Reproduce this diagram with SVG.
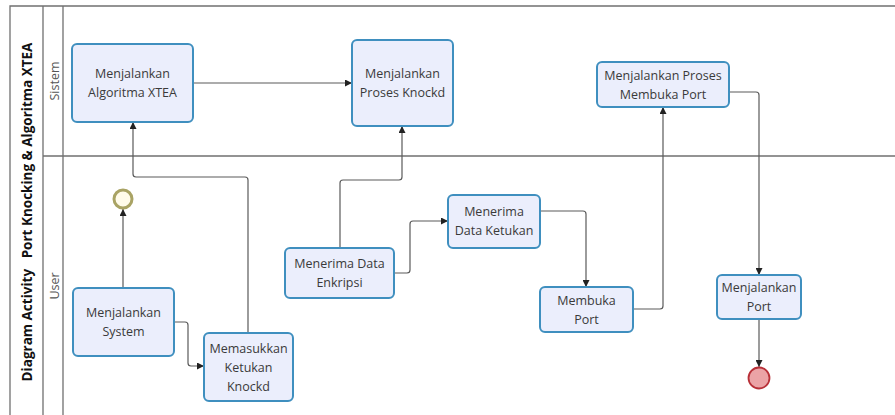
<svg xmlns="http://www.w3.org/2000/svg" width="895" height="415" viewBox="0 0 895 415">
  <defs>
    <marker id="arrow" viewBox="0 0 10 10" refX="10" refY="5" markerWidth="7" markerHeight="7" orient="auto-start-reverse" markerUnits="userSpaceOnUse">
      <path d="M0,0 L10,5 L0,10 z" fill="#222"/>
    </marker>
    <style>
      .frame { fill: none; stroke: #707070; stroke-width: 1.3; }
      .task rect { fill: #ebeefc; stroke: #3f8fbf; stroke-width: 2; }
      .task text { font-family: "Open Sans", "Noto Sans", sans-serif; font-size: 12.5px; fill: #3a3a3a; text-anchor: middle; }
      .lane { font-family: "Open Sans", "Noto Sans", sans-serif; font-size: 12.5px; fill: #555; text-anchor: middle; }
      .pool { font-family: "Open Sans", "Noto Sans", sans-serif; font-size: 13.5px; font-weight: bold; fill: #111; text-anchor: middle; }
      .flow { fill: none; stroke: #5a5a5a; stroke-width: 1.2; marker-end: url(#arrow); }
    </style>
  </defs>

  <!-- pool and lanes -->
  <g id="pool">
    <path class="frame" d="M895,6 H10 V415 M43,6 V415 M63,6 V415 M43,156 H895"/>
    <text class="pool" xml:space="preserve" transform="translate(27,212) rotate(-90)" dominant-baseline="central">Diagram Activity   Port Knocking &amp; Algoritma XTEA</text>
    <text class="lane" transform="translate(54,81) rotate(-90)" dominant-baseline="central">Sistem</text>
    <text class="lane" transform="translate(54,286) rotate(-90)" dominant-baseline="central">User</text>
  </g>

  <!-- connectors -->
  <g id="connectors">
    <path class="flow" d="M193,83 H352"/>
    <path class="flow" d="M248,333 V180 Q248,177 245,177 H136 Q133,177 133,174 V122"/>
    <path class="flow" d="M123,288 V209"/>
    <path class="flow" d="M174,322 H185 Q188,322 188,325 V363 Q188,366 191,366 H204"/>
    <path class="flow" d="M340,248 V183 Q340,180 343,180 H399 Q402,180 402,177 V126"/>
    <path class="flow" d="M394,273 H407 Q410,273 410,270 V224 Q410,221 413,221 H448"/>
    <path class="flow" d="M540,211 H583 Q586,211 586,214 V287"/>
    <path class="flow" d="M633,309 H660 Q663,309 663,306 V107"/>
    <path class="flow" d="M729,92 H756 Q759,92 759,95 V275"/>
    <path class="flow" d="M759,319 V367"/>
  </g>

  <!-- events -->
  <g id="start">
    <circle cx="123" cy="199" r="9" fill="#fffbea" stroke="#a9a364" stroke-width="3"/>
  </g>
  <g id="end">
    <circle cx="759" cy="378" r="10.5" fill="#eba3a6" stroke="#b83038" stroke-width="1.8"/>
  </g>

  <!-- tasks -->
  <g id="algoritma-xtea" class="task">
    <rect x="72" y="44" width="121" height="78" rx="5"/>
    <text x="132.5" y="78">Menjalankan</text>
    <text x="132.5" y="97">Algoritma XTEA</text>
  </g>
  <g id="proses-knockd" class="task">
    <rect x="352" y="40" width="101" height="86" rx="5"/>
    <text x="402.5" y="78">Menjalankan</text>
    <text x="402.5" y="97">Proses Knockd</text>
  </g>
  <g id="proses-membuka-port" class="task">
    <rect x="597" y="62" width="132" height="45" rx="5"/>
    <text x="663" y="80">Menjalankan Proses</text>
    <text x="663" y="99">Membuka Port</text>
  </g>
  <g id="menjalankan-system" class="task">
    <rect x="73" y="288" width="101" height="68" rx="5"/>
    <text x="123.5" y="317">Menjalankan</text>
    <text x="123.5" y="336">System</text>
  </g>
  <g id="memasukkan-ketukan" class="task">
    <rect x="204" y="333" width="89" height="68" rx="5"/>
    <text x="248.5" y="353">Memasukkan</text>
    <text x="248.5" y="372">Ketukan</text>
    <text x="248.5" y="391">Knockd</text>
  </g>
  <g id="data-enkripsi" class="task">
    <rect x="285" y="248" width="109" height="50" rx="5"/>
    <text x="339.5" y="268">Menerima Data</text>
    <text x="339.5" y="287">Enkripsi</text>
  </g>
  <g id="data-ketukan" class="task">
    <rect x="448" y="195" width="92" height="53" rx="5"/>
    <text x="494" y="216">Menerima</text>
    <text x="494" y="235">Data Ketukan</text>
  </g>
  <g id="membuka-port" class="task">
    <rect x="540" y="287" width="93" height="45" rx="5"/>
    <text x="586.5" y="305">Membuka</text>
    <text x="586.5" y="324">Port</text>
  </g>
  <g id="menjalankan-port" class="task">
    <rect x="717" y="275" width="84" height="44" rx="5"/>
    <text x="759" y="292">Menjalankan</text>
    <text x="759" y="311">Port</text>
  </g>
</svg>
